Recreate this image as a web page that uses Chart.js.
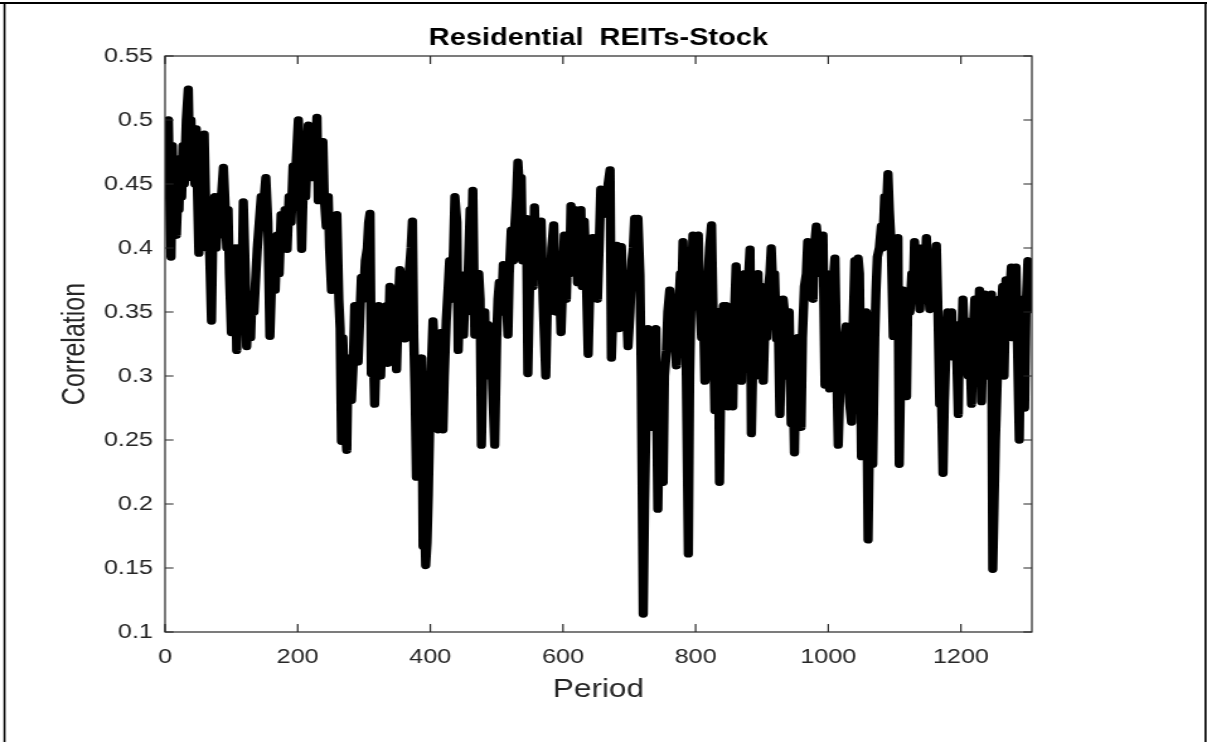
<!DOCTYPE html>
<html>
<head>
<meta charset="utf-8">
<script src="https://cdn.jsdelivr.net/npm/chart.js@4.4.1/dist/chart.umd.min.js"></script>
<style>
html,body{margin:0;padding:0;background:#fff;overflow:hidden;}
</style>
</head>
<body>
<canvas id="c" width="958" height="742" style="display:block;width:1207px;height:742px;"></canvas>
<script>
// ---- data ----
const chartTitle = 'Residential  REITs-Stock';
const xTitle = 'Period';
const yTitle = 'Correlation';
const xTickValues = [0, 200, 400, 600, 800, 1000, 1200];
const yTickValues = [0.1, 0.15, 0.2, 0.25, 0.3, 0.35, 0.4, 0.45, 0.5, 0.55];

const periods = [
0,3,5,7,9,11,13,15,17,19,21,23,25,27,29,32,35,37,39,41,43,45,47,49,51,53,55,57,59,61,63,65,67,70,72,75,77,80,82,85,88,90,93,95,97,100,102,104,106,108,110,113,116,118,121,123,126,129,131,134,137,139,142,145,148,152,155,158,161,164,166,169,172,175,178,181,184,187,190,193,196,199,201,203,206,209,212,216,219,
221,224,226,229,231,234,236,238,240,243,246,248,251,254,256,259,262,264,266,268,270,272,274,276,279,281,284,286,288,291,294,296,299,302,305,307,309,311,313,316,319,322,325,328,331,334,336,339,342,345,347,349,352,354,357,360,362,365,368,371,373,375,377,379,381,384,387,389,391,393,395,397,399,401,404,407,410,412,415,417,
419,421,424,427,429,432,435,437,440,442,445,447,450,452,455,457,460,462,464,467,470,473,475,477,480,482,484,487,490,492,494,497,500,502,504,507,510,514,517,519,522,525,527,530,532,535,537,539,542,545,546,547,550,553,555,557,560,563,565,567,570,572,574,577,580,583,586,588,590,593,595,597,600,602,605,607,610,612,615,618,620,622,625,627,629,632,635,638,
641,643,645,648,650,652,655,657,660,663,666,668,671,673,676,678,681,684,686,688,691,694,696,698,701,704,706,708,711,713,716,718,721,723,725,728,730,733,735,737,740,743,745,748,751,753,756,758,761,764,767,769,771,774,777,779,781,784,786,789,791,793,796,799,801,804,806,809,811,814,817,819,821,824,826,829,831,834,836,838,
840,842,844,846,849,851,854,856,858,861,864,866,869,871,874,877,879,882,884,887,889,892,894,897,899,902,905,907,910,912,914,917,919,922,924,927,930,932,934,937,939,941,944,946,949,951,954,956,959,961,964,967,969,972,974,977,979,982,985,987,990,992,995,997,1000,1002,1005,1007,1010,1013,1015,1018,1020,1023,1027,1030,1032,1035,1037,1040,1042,1045,1047,1050,1053,1055,1057,
1060,1062,1065,1067,1070,1072,1074,1077,1080,1082,1085,1087,1090,1092,1095,1098,1100,1103,1105,1107,1110,1113,1115,1118,1120,1123,1126,1128,1130,1133,1135,1138,1141,1143,1146,1148,1151,1153,1156,1158,1161,1163,1165,1168,1170,1173,1175,1178,1180,1183,1186,1188,1191,1193,1196,1198,1201,1203,1206,1208,1211,1213,1216,1218,1221,1223,1226,1228,1231,1233,1236,1239,1241,1243,1246,1248,1250,1252,1255,1258,1260,1263,1265,1268,1271,1273,1276,1278,1281,1283,1285,1288,1290,1293,1296,1298,1301,1304,1306
];

const correlation = [
.445,.47,.50,.44,.393,.48,.42,.45,.41,.44,.43,.47,.44,.48,.45,.50,.524,.47,.50,.455,.49,.45,.493,.44,.396,.45,.43,.47,.489,.44,.40,.432,.40,.343,.41,.44,.40,.43,.41,.44,.463,.44,.40,.43,.38,.334,.40,.37,.40,.32,.36,.40,.37,.436,.38,.323,.36,.33,.364,.35,.38,.399,.42,.44,.43,.455,.42,.331,.38,.40,.367,.41,.38,.426,.40,.43,.399,.44,.42,.464,.45,.48,.50,.47,.399,.46,.44,.496,.47,
.455,.49,.46,.502,.437,.47,.45,.483,.44,.417,.44,.40,.367,.40,.38,.426,.36,.337,.249,.33,.30,.26,.242,.314,.29,.281,.314,.355,.32,.311,.35,.377,.36,.39,.40,.42,.427,.302,.34,.278,.33,.355,.30,.35,.32,.355,.31,.37,.35,.33,.36,.305,.36,.383,.36,.37,.329,.35,.38,.40,.421,.33,.287,.221,.26,.30,.314,.167,.20,.152,.17,.208,.26,.30,.343,.31,.32,.258,.30,.334,
.258,.30,.343,.37,.39,.36,.40,.44,.42,.32,.37,.379,.332,.36,.35,.38,.43,.40,.445,.332,.37,.38,.36,.246,.33,.35,.30,.34,.30,.33,.29,.246,.33,.36,.373,.35,.387,.37,.332,.38,.414,.39,.414,.44,.467,.44,.455,.39,.41,.423,.364,.302,.38,.40,.37,.432,.379,.40,.38,.421,.36,.33,.30,.37,.35,.40,.418,.38,.35,.39,.37,.334,.38,.41,.36,.40,.38,.433,.40,.43,.41,.373,.40,.43,.37,.421,.38,.317,
.38,.40,.408,.364,.39,.36,.41,.446,.426,.44,.43,.45,.461,.314,.36,.38,.402,.337,.37,.401,.36,.38,.35,.323,.35,.39,.40,.423,.40,.423,.379,.30,.114,.20,.26,.337,.29,.26,.31,.33,.337,.196,.26,.30,.217,.30,.32,.35,.367,.34,.36,.33,.308,.35,.38,.36,.405,.36,.30,.161,.30,.36,.41,.38,.405,.41,.36,.33,.37,.296,.35,.38,.40,.418,.36,.273,.33,.35,.217,.30,
.34,.355,.30,.355,.276,.33,.35,.276,.34,.386,.35,.37,.296,.35,.38,.34,.37,.399,.255,.33,.37,.35,.38,.30,.37,.296,.35,.33,.37,.38,.40,.36,.38,.329,.36,.27,.33,.36,.35,.30,.34,.35,.263,.32,.24,.30,.33,.29,.26,.33,.37,.38,.405,.39,.40,.36,.40,.417,.40,.41,.38,.41,.293,.38,.33,.29,.34,.37,.392,.30,.246,.30,.33,.32,.339,.30,.28,.264,.33,.39,.37,.392,.38,.237,.30,.28,.35,
.172,.25,.302,.231,.33,.367,.393,.40,.417,.40,.44,.42,.458,.43,.40,.331,.38,.36,.408,.231,.33,.367,.35,.284,.36,.35,.38,.36,.405,.38,.40,.352,.39,.40,.38,.408,.37,.352,.36,.39,.38,.402,.36,.278,.30,.224,.28,.33,.35,.32,.35,.315,.34,.33,.27,.34,.32,.36,.32,.343,.30,.33,.278,.33,.36,.30,.33,.367,.28,.33,.364,.30,.36,.33,.364,.149,.20,.25,.30,.36,.34,.37,.30,.375,.33,.36,.385,.33,.37,.385,.33,.25,.33,.36,.275,.35,.39,.37,.352
];

// ---- drawing ----
const axisColor = '#262626';
const FONT = "'Liberation Sans', Arial, Helvetica, sans-serif";
const SX = 958 / 1207;   // internal canvas units per displayed pixel (horizontal)

const points = periods.map((p, i) => ({x: p, y: correlation[i]}));

const boxPlugin = {
  id: 'matlabBox',
  afterDatasetsDraw(chart) {
    const {ctx, chartArea: a, scales: {x, y}} = chart;
    ctx.save();
    ctx.strokeStyle = axisColor;
    ctx.lineWidth = 1.2;
    ctx.strokeRect(a.left, a.top, a.right - a.left, a.bottom - a.top);
    ctx.beginPath();
    const tlx = 8;
    const tly = 8.5 * SX;
    xTickValues.forEach(v => {
      const px = x.getPixelForValue(v);
      ctx.moveTo(px, a.bottom); ctx.lineTo(px, a.bottom - tlx);
      ctx.moveTo(px, a.top); ctx.lineTo(px, a.top + tlx);
    });
    yTickValues.forEach(v => {
      const py = y.getPixelForValue(v);
      ctx.moveTo(a.left, py); ctx.lineTo(a.left + tly, py);
      ctx.moveTo(a.right, py); ctx.lineTo(a.right - tly, py);
    });
    ctx.stroke();
    ctx.fillStyle = '#000';
    ctx.font = 'bold 23px ' + FONT;
    ctx.textAlign = 'center';
    ctx.textBaseline = 'alphabetic';
    ctx.fillText(chartTitle, (a.left + a.right) / 2, 44.5);
    ctx.strokeStyle = '#000';
    ctx.lineWidth = 2;
    ctx.beginPath();
    ctx.moveTo(0, 3); ctx.lineTo(chart.width, 3);
    ctx.stroke();
    ctx.lineWidth = 2 * SX;
    ctx.beginPath();
    ctx.moveTo(4.5 * SX, 3); ctx.lineTo(4.5 * SX, chart.height);
    ctx.moveTo(1205.5 * SX, 3); ctx.lineTo(1205.5 * SX, chart.height);
    ctx.stroke();
    ctx.restore();
  }
};

const chart = new Chart(document.getElementById('c'), {
  type: 'line',
  data: {
    datasets: [{
      data: points,
      borderColor: '#000000',
      backgroundColor: '#000000',
      borderWidth: 7.4,
      pointRadius: 0,
      tension: 0,
      fill: false,
      borderJoinStyle: 'round',
      borderCapStyle: 'round'
    }]
  },
  options: {
    responsive: false,
    devicePixelRatio: 1,
    animation: false,
    events: [],
    parsing: false,
    layout: {padding: {top: 56, right: 139, left: 0, bottom: 0}},
    plugins: {legend: {display: false}, tooltip: {enabled: false}, title: {display: false}},
    scales: {
      x: {
        type: 'linear',
        min: 0, max: 1307,
        grid: {display: false, drawTicks: false},
        border: {display: false},
        ticks: {stepSize: 200, color: axisColor, font: {family: FONT, size: 20}, padding: 13.7, maxRotation: 0, autoSkip: false,
                callback: v => String(v)},
        afterBuildTicks: s => { s.ticks = xTickValues.map(v => ({value: v})); },
        afterFit: s => { s.height = 110; },
        title: {display: true, text: xTitle, color: axisColor, font: {family: FONT, size: 25}, padding: {top: 0, bottom: 37}}
      },
      y: {
        type: 'linear',
        min: 0.1, max: 0.55,
        grid: {display: false, drawTicks: false},
        border: {display: false},
        ticks: {color: axisColor, font: {family: FONT, size: 20}, padding: 9.6, autoSkip: false,
                callback: v => String(Number(v.toFixed(2)))},
        afterBuildTicks: s => { s.ticks = yTickValues.map(v => ({value: v})); },
        afterFit: s => { s.width = 131; },
        title: {display: true, text: yTitle, color: axisColor, font: {family: FONT, size: 25}, padding: {top: 45, bottom: 0}}
      }
    }
  },
  plugins: [boxPlugin]
});
chart.canvas.style.width = '1207px';
chart.canvas.style.height = '742px';
</script>
</body>
</html>
